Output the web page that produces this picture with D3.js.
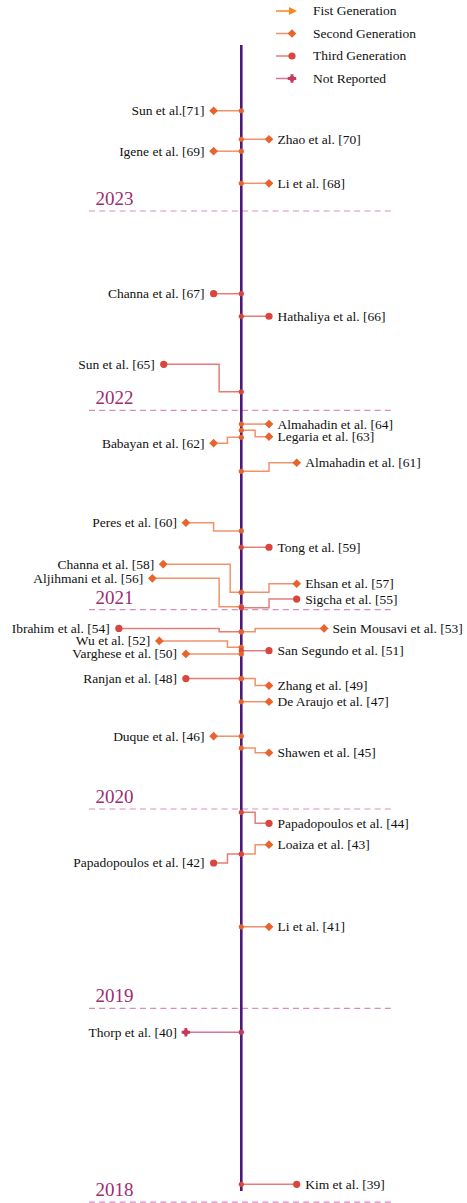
<!DOCTYPE html>
<html><head><meta charset="utf-8">
<script src="https://cdn.jsdelivr.net/npm/d3@7"></script>
<style>body{margin:0;background:#fff}svg{display:block}
svg text{font-family:"Liberation Serif","Times New Roman","DejaVu Serif",serif;}</style>
</head><body><svg id="c" width="467" height="1203"></svg>
<script>
// ---- data ----
const names = ["Sun et al.[71]","Zhao et al. [70]","Igene et al. [69]","Li et al. [68]","Channa et al. [67]","Hathaliya et al. [66]","Sun et al. [65]","Almahadin et al. [64]","Legaria et al. [63]","Babayan et al. [62]","Almahadin et al. [61]","Peres et al. [60]","Tong et al. [59]","Channa et al. [58]","Ehsan et al. [57]","Aljihmani et al. [56]","Sigcha et al. [55]","Ibrahim et al. [54]","Sein Mousavi et al. [53]","Wu et al. [52]","San Segundo et al. [51]","Varghese et al. [50]","Ranjan et al. [48]","Zhang et al. [49]","De Araujo et al. [47]","Duque et al. [46]","Shawen et al. [45]","Papadopoulos et al. [44]","Loaiza et al. [43]","Papadopoulos et al. [42]","Li et al. [41]","Thorp et al. [40]","Kim et al. [39]"];
const nodeT  = [2023.503,2023.360,2023.300,2023.139,2022.585,2022.472,2022.093,2021.931,2021.900,2021.865,2021.694,2021.395,2021.313,2021.087,2021.087,2021.015,2021.010,2020.889,2020.889,2020.811,2020.794,2020.778,2020.654,2020.654,2020.538,2020.365,2020.306,2019.983,2019.774,2019.774,2019.409,2018.880,2018.117];
const labelT = [2023.503,2023.360,2023.300,2023.139,2022.585,2022.472,2022.231,2021.931,2021.868,2021.835,2021.737,2021.436,2021.313,2021.228,2021.130,2021.157,2021.053,2020.906,2020.906,2020.843,2020.794,2020.778,2020.654,2020.619,2020.538,2020.365,2020.282,2019.928,2019.821,2019.729,2019.409,2018.880,2018.117];
const reach  = [-1,1,-1,1,-1,1,-2.8,1,1,-1,2,-2,1,-2.82,2,-3.21,2,-4.42,2.99,-2.96,1,-2,-2,1,1,-1,1,1,1,-1,1,-2,2];
const elbow  = [0,0,0,0,0,0,-0.8,0,0.5,-0.5,1,-1,0,-0.4,1,-0.8,1,-0.8,0.5,-0.5,0,0,0,0.5,0,0,0.5,0.5,0.5,-0.5,0,0,0];
const gens   = ["2","2","2","2","3","3","3","2","2","2","2","2","3","2","2","2","3","3","2","2","3","2","3","2","2","2","2","3","2","3","2","N","3"];
const years  = ["2023","2022","2021","2020","2019","2018"];
const yearLineT = [2023,2022,2021,2020,2019,2018.028];
const axisSpan = [2023.833,2018.084];
const legendKeys = ["1","2","3","N"];
const legendLabels = ["Fist Generation","Second Generation","Third Generation","Not Reported"];

// ---- styles ----
const colors = {"1":"#f8861c","2":"#e8642c","3":"#d8463e","N":"#c53b5c"};

const svg = d3.select("#c");
const y = d3.scaleLinear().domain([2023,2019]).range([211,1008.3]);
const x = d3.scaleLinear().domain([0,1]).range([241.3,269]);

// year separators
const yg = svg.append("g");
years.forEach((yr,i)=>{
  const yy = y(yearLineT[i]);
  yg.append("line").attr("x1",89).attr("x2",394).attr("y1",yy).attr("y2",yy)
    .attr("stroke","#d98cbd").attr("stroke-width",1.2).attr("stroke-dasharray","6,4.2");
  yg.append("text").attr("x",95.5).attr("y",yy-6).text(yr)
    .attr("font-size",19).attr("fill","#9c2d6f");
});

// axis
svg.append("line").attr("x1",x(0)).attr("x2",x(0)).attr("y1",y(axisSpan[0])).attr("y2",y(axisSpan[1]))
  .attr("stroke","#4b1a78").attr("stroke-width",2.6);

function marker(g, type, cx, cy){
  const c = colors[type];
  if(type==="2"){
    g.append("path").attr("d",d3.symbol(d3.symbolSquare,38)()).attr("transform",`translate(${cx},${cy}) rotate(45)`).attr("fill",c);
  } else if(type==="3"){
    g.append("circle").attr("cx",cx).attr("cy",cy).attr("r",3.6).attr("fill",c);
  } else if(type==="N"){
    g.append("path").attr("d",d3.symbol(d3.symbolCross,40)()).attr("transform",`translate(${cx},${cy})`).attr("fill",c);
    g.append("circle").attr("cx",cx).attr("cy",cy).attr("r",2.7).attr("fill",c);
  } else {
    g.append("path").attr("d","M-4,-4L4,0L-4,4Z").attr("transform",`translate(${cx},${cy})`).attr("fill",c);
  }
}

// events
const eg = svg.append("g");
names.forEach((nm,i)=>{
  const c = colors[gens[i]];
  const ny = y(nodeT[i]), ly = y(labelT[i]);
  const mx = x(reach[i]), ex = x(elbow[i]);
  const path = (elbow[i]===0 || Math.abs(ny-ly)<0.5)
    ? `M${x(0)},${ny}H${mx}`
    : `M${x(0)},${ny}H${ex}V${ly}H${mx}`;
  eg.append("path").attr("d",path).attr("fill","none").attr("stroke",c)
    .attr("stroke-width",1.5).attr("stroke-opacity",0.7);
  marker(eg, gens[i], mx, ly);
  eg.append("circle").attr("cx",x(0)).attr("cy",ny).attr("r",2.6).attr("fill",c);
  const left = reach[i] < 0;
  eg.append("text").attr("x", left ? mx-9 : mx+8.5).attr("y", ly).attr("dy","0.33em")
    .attr("text-anchor", left ? "end" : "start")
    .attr("font-size",13.5).attr("fill","#111").text(nm);
});

// legend
const lg = svg.append("g");
legendKeys.forEach((k,i)=>{
  const ly = 11 + i*22.5;
  const c = colors[k];
  lg.append("line").attr("x1",276).attr("x2",292).attr("y1",ly).attr("y2",ly)
    .attr("stroke",c).attr("stroke-width",1.5).attr("stroke-opacity",k==="1"?1:0.7);
  marker(lg, k, k==="1"?293:292, ly);
  lg.append("text").attr("x",313).attr("y",ly).attr("dy","0.33em")
    .attr("font-size",13.5).attr("fill","#111").text(legendLabels[i]);
});
</script></body></html>
